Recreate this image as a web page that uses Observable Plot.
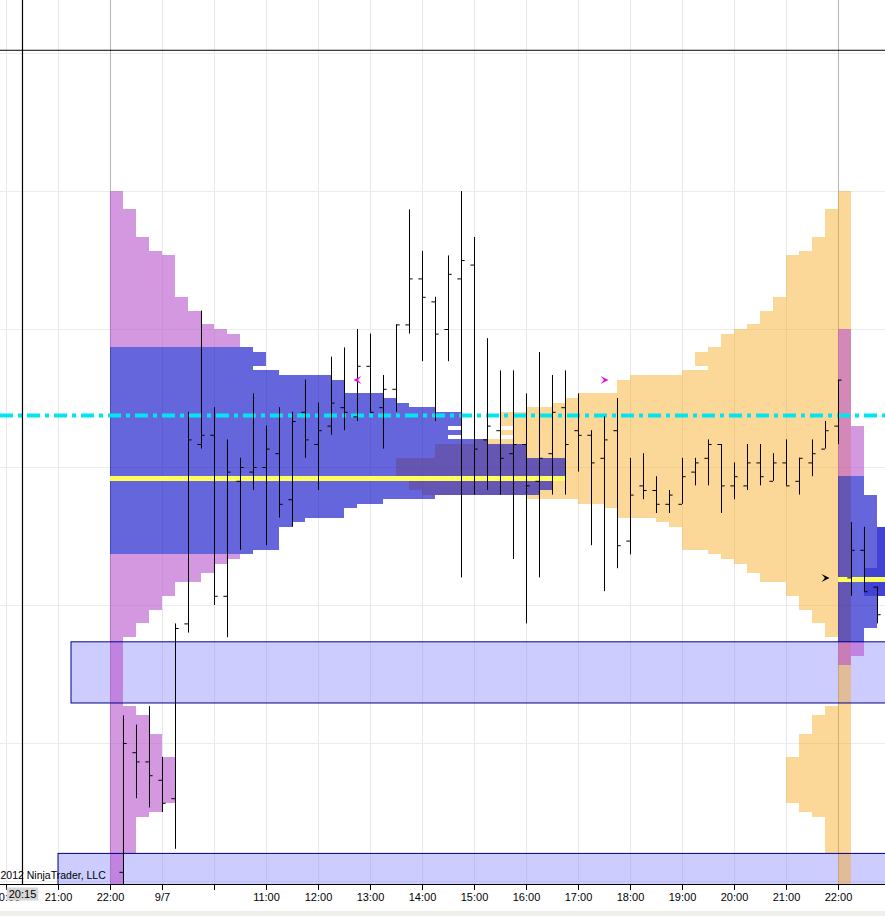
<!DOCTYPE html>
<html><head><meta charset="utf-8">
<script src="https://cdn.jsdelivr.net/npm/d3@7"></script>
<script src="https://cdn.jsdelivr.net/npm/@observablehq/plot@0.6"></script>
<style>
html,body{margin:0;padding:0;background:#fff;}
#chart{width:885px;height:911px;overflow:hidden;}
#strip{width:885px;height:5px;background:#efefeb;}
svg{display:block;}
</style></head><body><div id="chart"></div><div id="strip"></div>
<script>
// ---------- axis / view ----------
// x = 15-minute bar slot (0 = 22:00 session open), y = price
const viewLeftSlot = -8.4615, viewRightSlot = 59.6154;
const viewBottomPrice = 819.935, viewTopPrice = 839.152;
const tickSlots  = [-8, -4, 0, 4, 8, 12, 16, 20, 24, 28, 32, 36, 40, 44, 48, 52, 56];
const tickLabels = ["20:00","21:00","22:00","9/7","","11:00","12:00","13:00","14:00","15:00","16:00","17:00","18:00","19:00","20:00","21:00","22:00"];
const sessionBreakSlots = [0, 56];
const priceGrid = [820, 823, 826, 829, 832, 835, 838];

// ---------- OHLC bars ----------
const barSlot  = [1,2,3,4,5,6,7,8,9,10,11,12,13,14,15,16,17,18,19,20,21,22,23,24,25,26,27,28,29,30,31,32,33,34,35,36,37,38,39,40,41,42,43,44,45,46,47,48,49,50,51,52,53,54,55,56,57,58,59];
const barOpen  = [820.2,822.8,822.6,822.2,821.8,825.6,829.5,829.7,826.2,828.7, 828.9,829.0,829.3,828.3,830.2,829.5,829.9,830.3,830.1,831.2, 830.3,830.7,832.1,833.1,832.6,832.0,833.1,833.4,829.6,829.8, 829.3,829.5,828.7,829.3,830.3,829.8,829.7,829.2,829.8,827.4, 828.6,828.5,828.2,828.2,828.9,829.2,829.5,828.6,828.6,829.1, 828.7,829.1,828.7,829.1,829.4,829.9,826.6,827.2,826.4];
const barHigh  = [823.6,823.4,823.8,822.7,825.6,830.2,832.4,830.3,829.6,829.2, 830.6,829.9,830.3,830.2,830.9,830.4,831.4,831.6,832.0,831.9, 831.0,832.1,834.6,833.7,832.7,833.6,835.0,834.0,831.8,831.1, 831.1,830.6,831.5,831.0,831.1,830.6,829.8,830.1,830.5,829.2, 829.3,828.8,828.5,829.2,829.2,829.6,829.5,829.1,829.5,829.5, 829.3,829.6,829.2,829.6,830.0,830.9,827.8,827.7,826.4];
const barLow   = [819.7,821.8,821.6,821.5,820.7,825.4,829.4,826.0,825.3,827.2, 828.5,827.3,827.9,827.7,829.2,828.5,829.7,829.8,830.0,830.2, 829.4,830.2,831.9,831.3,830.0,831.3,826.6,828.4,828.5,828.4, 827.0,825.6,826.6,828.4,828.4,828.9,827.3,826.3,826.8,827.1, 828.3,828.0,828.0,828.2,828.6,828.6,828.0,828.3,828.5,828.6, 828.7,828.6,828.4,828.8,829.4,829.5,826.2,826.3,825.6];
const barClose = [823.0,822.6,822.3,821.7,825.5,829.6,829.7,826.2,828.9,829.0, 829.0,829.4,828.2,830.0,829.6,829.8,830.4,830.2,831.2,830.2, 830.7,832.1,833.1,832.7,831.9,833.2,833.5,829.4,829.9,829.2, 829.5,828.6,829.2,830.2,829.5,829.7,829.1,829.6,827.3,828.4, 828.5,828.2,828.4,828.8,829.1,829.5,828.6,828.8,829.1,828.8, 829.1,828.6,829.2,829.3,829.8,830.9,827.2,826.3,825.8];

// ---------- session 1 profile (drawn from the open, and mirrored from the close) ----------
const profile1Levels = [835.0,834.6,834.0,833.7,833.6,832.7,832.4,832.1,832.0,831.9, 831.6,831.5,831.2,831.1,831.0,830.9,830.6,830.5,830.4,830.3, 830.2,829.9,829.8,829.7,829.6,829.5,829.2,828.7,828.5,828.4, 828.3,828.2,828.1,827.9,827.8,827.7,827.2,827.1, 827.0,826.9,826.7,826.5,826.2,825.9,825.6,825.3, 823.8,823.6,823.2,822.7,821.7,821.5,821.4,820.6,819.0];
const profile1Counts = [1,2,3,4,5,6,7,8,9,10, 11,12,11,13,17,18,21,22,23,25, 27,26,27,26,29,32,35,34,33,25, 21,19,18,15,14,13,11, 10,9,8,7,5,4,3,2,1, 2,3,4,5,4,3,2,1];
const profile1Start = 0, profile1MirrorEnd = 57;
const profile1VA = [827.1, 831.6];
const profile1POC = [828.7, 828.8];

// ---------- session 2 profile ----------
const profile2Levels = [832.0,829.9,828.8,828.4,827.7,826.8,826.2,825.5,825.2,824.9,824.7];
const profile2Counts = [1,2,2,3,4,4,3,2,2,1];
const profile2Start = 56;
const profile2VA = [825.2, 828.8];
const profile2POC = [826.5, 826.6];
// overlapping developing profile at the far right edge
const profile2bLevels = [827.7,826.8,826.2];
const profile2bCounts = [1,2];
const profile2bEnd = 60;

// ---------- zones, levels, markers, crosshair ----------
const zoneStart  = [-3, -4];
const zoneEnd    = [62, 62];
const zoneTop    = [825.2, 820.6];
const zoneBottom = [823.87, 818.0];
const pivotLevel = 830.13;
const markerSlot  = [19, 38, 55];
const markerPrice = [830.9, 830.9, 826.6];
const markerDir   = [-1, 1, 1];
const markerColor = ["#e010e0", "#e010e0", "#000000"];
const crossSlot = -6.77, crossPrice = 838.07, crossLabel = "20:15";
const copyright = "2012 NinjaTrader, LLC";

// ---------- build tables ----------
const bars = barSlot.map((s, i) => ({slot: s, open: barOpen[i], high: barHigh[i], low: barLow[i], close: barClose[i]}));
function rows(levels, counts, va) {
  return counts.map((c, i) => ({hi: levels[i], lo: levels[i + 1], count: c,
    va: levels[i + 1] >= va[0] - 1e-9 && levels[i] <= va[1] + 1e-9}));
}
const p1 = rows(profile1Levels, profile1Counts, profile1VA);
const p2 = rows(profile2Levels, profile2Counts, profile2VA);
const p2b = rows(profile2bLevels, profile2bCounts, [0, 0]);
const countAt = (rs, p) => rs.find(r => r.lo <= p && r.hi > p).count;
const pocs = [
  {x1: profile1Start, x2: profile1Start + countAt(p1, profile1POC[0] + 0.05), lo: profile1POC[0], hi: profile1POC[1]},
  {x1: profile2Start, x2: profile2Start + countAt(p2, profile2POC[0] + 0.05), lo: profile2POC[0], hi: profile2POC[1]}
];
const zones = zoneStart.map((s, i) => ({x1: s, x2: zoneEnd[i], hi: zoneTop[i], lo: zoneBottom[i]}));
const markers = markerSlot.map((s, i) => ({slot: s, price: markerPrice[i], dir: markerDir[i], color: markerColor[i]}));
const labelMap = new Map(tickSlots.map((s, i) => [s, tickLabels[i]]));
const gridSlots = d3.range(-8, 64, 4);

function chevron(dir) {
  return {draw(ctx, size) {
    const s = Math.sqrt(size / Math.PI);
    ctx.moveTo(-dir * s, -s);
    ctx.lineTo(dir * s, 0);
    ctx.lineTo(-dir * s, s);
    ctx.lineTo(-dir * s * 0.15, 0);
    ctx.closePath();
  }};
}

const LAV = "#b753cb", BLUE = "#0000c5", ORANGE = "#f9a91b";
const crisp = {shapeRendering: "crispEdges", clip: true};

const chart = Plot.plot({
  width: 885, height: 911,
  marginTop: 0, marginRight: 0, marginBottom: 27, marginLeft: 0,
  style: {background: "#fff", fontFamily: "'Liberation Sans', Arial, sans-serif", fontSize: "11px", color: "#000"},
  x: {domain: [viewLeftSlot, viewRightSlot]},
  y: {domain: [viewBottomPrice, viewTopPrice], axis: null},
  marks: [
    // grid
    Plot.ruleX(gridSlots, {stroke: "#e8e8e8", clip: true}),
    Plot.ruleY(priceGrid, {stroke: "#ececec", clip: true}),
    Plot.ruleX(sessionBreakSlots, {stroke: "#b4b4b4", clip: true}),
    // zones (fill)
    Plot.rect(zones, {x1: "x1", x2: "x2", y1: "lo", y2: "hi", fill: "#8080ff", fillOpacity: 0.4, ...crisp}),
    // mirrored profile
    Plot.rect(p1, {x1: d => profile1MirrorEnd - d.count, x2: profile1MirrorEnd, y1: "lo", y2: "hi", fill: ORANGE, fillOpacity: 0.45, ...crisp}),
    // session profiles
    Plot.rect(p1, {x1: profile1Start, x2: d => profile1Start + d.count, y1: "lo", y2: "hi", fill: d => d.va ? BLUE : LAV, fillOpacity: 0.6, ...crisp}),
    Plot.rect(p2, {x1: profile2Start, x2: d => profile2Start + d.count, y1: "lo", y2: "hi", fill: d => d.va ? BLUE : LAV, fillOpacity: 0.6, ...crisp}),
    Plot.rect(p2b, {x1: d => profile2bEnd - d.count, x2: profile2bEnd, y1: "lo", y2: "hi", fill: BLUE, fillOpacity: 0.35, ...crisp}),
    // POC
    Plot.rect(pocs, {x1: "x1", x2: "x2", y1: "lo", y2: "hi", fill: "#ffff5a", ...crisp}),
    // zone borders
    Plot.rect(zones, {x1: "x1", x2: "x2", y1: "lo", y2: "hi", fill: "none", stroke: "#00008c", strokeWidth: 1, clip: true}),
    // pivot line
    Plot.ruleY([pivotLevel], {stroke: "#00e5f0", strokeWidth: 4, strokeDasharray: "13,5,4,5", clip: true}),
    // OHLC bars
    Plot.ruleX(bars, {x: "slot", y1: "low", y2: "high", stroke: "#000", clip: true}),
    Plot.ruleY(bars, {y: "open", x1: d => d.slot - 0.28, x2: "slot", stroke: "#000", clip: true}),
    Plot.ruleY(bars, {y: "close", x1: "slot", x2: d => d.slot + 0.28, stroke: "#000", clip: true}),
    // markers
    Plot.dot(markers.filter(m => m.dir < 0), {x: "slot", y: "price", r: 4, symbol: chevron(-1), fill: "color", stroke: null}),
    Plot.dot(markers.filter(m => m.dir > 0), {x: "slot", y: "price", r: 4, symbol: chevron(1), fill: "color", stroke: null}),
    // crosshair
    Plot.ruleX([crossSlot], {stroke: "#000", strokeWidth: 1.2, clip: true}),
    Plot.ruleY([crossPrice], {stroke: "#000", strokeWidth: 1.2, clip: true}),
    // frame bottom
    Plot.frame({anchor: "bottom", stroke: "#000"}),
    // copyright
    Plot.text([copyright], {frameAnchor: "bottom-left", dx: 0, dy: -6, textAnchor: "start", fontSize: 10.5, fill: "#000"}),
    // x axis
    Plot.axisX(tickSlots, {tickFormat: d => labelMap.get(d), tickSize: 6, tickPadding: 3, fontSize: 11, stroke: "#000", fill: "#000", label: null}),
    // crosshair time label
    Plot.text([crossLabel], {x: crossSlot, frameAnchor: "bottom", dy: 13, fontSize: 11, fill: "#000"})
  ]
});
document.getElementById("chart").append(chart);

// grey background box behind the crosshair time label
d3.select(chart).selectAll("text").filter(function() { return this.textContent === crossLabel; }).each(function() {
  const b = this.getBBox();
  const rect = document.createElementNS("http://www.w3.org/2000/svg", "rect");
  rect.setAttribute("x", b.x - 2); rect.setAttribute("y", b.y);
  rect.setAttribute("width", b.width + 4); rect.setAttribute("height", b.height + 1);
  rect.setAttribute("fill", "#d6d6d6");
  const tr = this.getAttribute("transform");
  if (tr) rect.setAttribute("transform", tr);
  this.parentNode.insertBefore(rect, this);
});
</script></body></html>
